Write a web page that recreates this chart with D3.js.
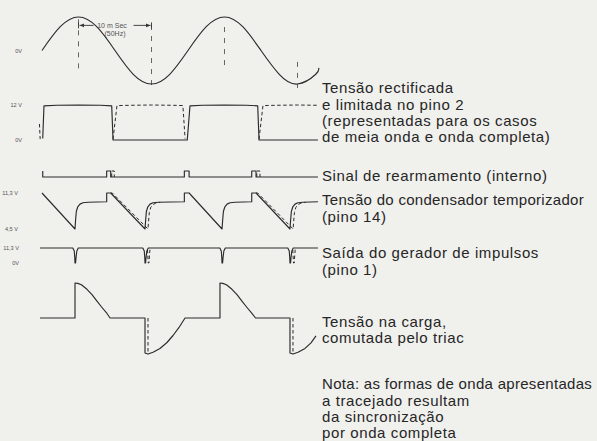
<!DOCTYPE html>
<html>
<head>
<meta charset="utf-8">
<script src="https://d3js.org/d3.v7.min.js"></script>
<style>
  body { margin: 0; background: #f0f0ed; }
  svg { display: block; }
  .trace { fill: none; stroke: #2b2b2b; stroke-width: 1.15; stroke-linejoin: round; }
  .dash { fill: none; stroke: #2b2b2b; stroke-width: 1; stroke-dasharray: 3.5,2.5; }
  .guide { fill: none; stroke: #555; stroke-width: 0.9; stroke-dasharray: 5,6; }
  .note { font-family: "Liberation Sans", Arial, sans-serif; font-size: 15px; letter-spacing: 0.6px; fill: #262626; }
  .small { font-family: "Liberation Sans", Arial, sans-serif; font-size: 6px; fill: #555; }
</style>
</head>
<body>
<div id="chart"></div>
<script>
// waveforms as [time (ms), value]
var mains = [[0,0],[2.5,0.71],[5,1],[7.5,0.71],[10,0],[12.5,-0.71],[15,-1],[17.5,-0.71],
  [20,0],[22.5,0.71],[25,1],[27.5,0.71],[30,0],[32.5,-0.71],[35,-1],[37.5,-0.71],[37.9,-0.52]];

var rectSolid = [[0.1,0.5],[0.27,11.7],[2,11.9],[5,12],[8,11.9],[9.55,11.7],[9.73,0],[19.9,0],
  [20.27,11.7],[22,11.9],[25,12],[28,11.9],[29.55,11.7],[29.73,0],[37.8,0]];
var rectDashed = [
  [[-0.35,5.5],[-0.25,0.3]],
  [[9.73,0.3],[10.27,11.8],[12,11.9],[15,12],[18,11.9],[19.3,11.8],[19.6,0.5]],
  [[29.73,0.3],[30.27,11.8],[32,11.9],[35,12],[37.8,11.9]]
];

var resetSolid = [[0.1,1],[0.1,0],[8.86,0],[8.86,1],[9.41,1],[9.41,0],[19.5,0],[19.5,1],[20.15,1],[20.15,0],
  [28.73,0],[28.73,1],[29.32,1],[29.32,0],[37.8,0]];
var resetDashed = [
  [[9.55,0],[9.55,1],[9.9,1],[9.9,0]],
  [[29.42,0],[29.42,1],[29.86,1],[29.86,0]]
];

var capSolid = [[0,11.3],[4.52,4.5],[4.6,6.2],[4.7,7.8],[4.9,8.7],[5.2,9.2],[5.6,9.45],[6.3,9.55],[8.86,9.65],
  [8.86,11.3],[9.41,11.3],[14.11,4.5],[14.2,6.2],[14.3,7.8],[14.5,8.7],[14.8,9.2],[15.2,9.45],[15.9,9.55],[19.5,9.65],
  [19.5,11.3],[20.15,11.3],[24.66,4.5],[24.75,6.2],[24.85,7.8],[25.05,8.7],[25.35,9.2],[25.75,9.45],[26.45,9.55],[28.73,9.65],
  [28.73,11.3],[29.32,11.3],[33.97,4.5],[34.06,6.2],[34.16,7.8],[34.36,8.7],[34.66,9.2],[35.06,9.45],[35.76,9.55],[37.8,9.65]];
var capDashed = [
  [[9.41,11.3],[9.63,11.3],[14.52,4.5],[14.6,6.0],[14.7,7.6],[14.9,8.6],[15.2,9.1],[15.6,9.4],[16.2,9.55]],
  [[29.32,11.3],[29.55,11.3],[34.4,4.5],[34.48,6.0],[34.58,7.6],[34.78,8.6],[35.08,9.1],[35.48,9.4],[36.1,9.55]]
];

var pulseSolid = [[-0.27,11.3],
  [4.22,11.3],[4.42,9],[4.49,4],[4.52,0],[4.6,0],[4.66,4],[4.77,9],[4.97,11.3],
  [13.81,11.3],[14.01,9],[14.08,4],[14.11,0],[14.19,0],[14.25,4],[14.36,9],[14.56,11.3],
  [24.36,11.3],[24.56,9],[24.63,4],[24.66,0],[24.74,0],[24.8,4],[24.91,9],[25.11,11.3],
  [33.67,11.3],[33.87,9],[33.94,4],[33.97,0],[34.05,0],[34.11,4],[34.22,9],[34.42,11.3],
  [37.8,11.3]];
var pulseDashed = [
  [[14.45,10],[14.55,0],[14.65,0],[14.78,10]],
  [[34.35,10],[34.45,0],[34.55,0],[34.68,10]]
];

var loadSolid = [[-0.27,0],[4.52,0],[4.52,1],[4.9,0.99],[5.4,0.95],[6.16,0.82],[6.85,0.67],[7.53,0.48],[8.22,0.3],[8.9,0.13],[9.32,0],
  [14.11,0],[14.11,-1],[14.52,-1.03],[15.21,-0.98],[16.16,-0.87],[17.12,-0.7],[17.95,-0.5],[18.77,-0.27],[19.59,0],
  [24.38,0],[24.38,1],[24.76,0.99],[25.26,0.95],[26.02,0.82],[26.71,0.67],[27.39,0.48],[28.08,0.3],[28.76,0.13],[29.25,0],
  [33.97,0],[33.97,-1],[34.38,-1.03],[35.07,-0.98],[36.03,-0.87],[36.85,-0.71],[37.53,-0.51]];
var loadDashed = [
  [[14.52,0],[14.52,-1.02]],
  [[34.38,0],[34.38,-1.02]]
];

// dashed guides on the mains wave (time, top and bottom in mains units)
var guideTimes = [5, 15, 25, 35];
var guideTop = [0.93, 0.76, 0.7, -0.34];
var guideBottom = [-0.64, -1.12, -0.58, -1.12];

// level labels
var mainsTicks = [0], mainsTickText = ["0V"];
var rectTicks = [12, 0], rectTickText = ["12 V", "0V"];
var capTicks = [11.3, 4.5], capTickText = ["11,3 V", "4,5 V"];
var pulseTicks = [11.3, 0], pulseTickText = ["11,3 V", "0V"];

// notes on the right
var rectNote = ["Tensão rectificada", "e limitada no pino 2", "(representadas para os casos", "de meia onda e onda completa)"];
var resetNote = ["Sinal de rearmamento (interno)"];
var capNote = ["Tensão do condensador temporizador", "(pino 14)"];
var pulseNote = ["Saída do gerador de impulsos", "(pino 1)"];
var loadNote = ["Tensão na carga,", "comutada pelo triac"];
var footNote = ["Nota: as formas de onda apresentadas", "a tracejado resultam", "da sincronização", "por onda completa"];

var width = 597, height = 441;

var svg = d3.select("#chart")
  .append("svg")
    .attr("width", width)
    .attr("height", height);

var x = d3.scaleLinear().domain([0, 20]).range([42, 188]);

var ySine  = d3.scaleLinear().domain([-1, 1]).range([84, 17]);
var yRect  = d3.scaleLinear().domain([0, 12]).range([140, 105]);
var yReset = d3.scaleLinear().domain([0, 1]).range([177, 171]);
var yCap   = d3.scaleLinear().domain([4.5, 11.3]).range([229, 193]);
var yPulse = d3.scaleLinear().domain([0, 11.3]).range([263, 248]);
var yLoad  = d3.scaleLinear().domain([-1, 1]).range([353, 283]);

function lineFor(y, curve) {
  return d3.line()
    .x(function(d) { return x(d[0]); })
    .y(function(d) { return y(d[1]); })
    .curve(curve || d3.curveLinear);
}

function drawTrace(data, y, curve) {
  svg.append("path").datum(data).attr("class", "trace").attr("d", lineFor(y, curve));
}
function drawDashed(segs, y) {
  svg.selectAll(null).data(segs).enter()
    .append("path").attr("class", "dash").attr("d", lineFor(y));
}

// mains guides
svg.selectAll(".guide").data(guideTimes).enter()
  .append("line").attr("class", "guide")
    .attr("x1", function(d) { return x(d); })
    .attr("x2", function(d) { return x(d); })
    .attr("y1", function(d, i) { return ySine(guideTop[i]); })
    .attr("y2", function(d, i) { return ySine(guideBottom[i]); });

drawTrace(mains, ySine, d3.curveNatural);
drawTrace(rectSolid, yRect);
drawDashed(rectDashed, yRect);
drawTrace(resetSolid, yReset);
drawDashed(resetDashed, yReset);
drawTrace(capSolid, yCap);
drawDashed(capDashed, yCap);
drawTrace(pulseSolid, yPulse);
drawDashed(pulseDashed, yPulse);
drawTrace(loadSolid, yLoad);
drawDashed(loadDashed, yLoad);

// 10 ms annotation
var defs = svg.append("defs");
defs.append("marker").attr("id", "arr")
  .attr("viewBox", "0 0 10 10").attr("refX", 10).attr("refY", 5)
  .attr("markerWidth", 5).attr("markerHeight", 5).attr("orient", "auto-start-reverse")
  .append("path").attr("d", "M0,1L10,5L0,9z").attr("fill", "#333");

var ay = ySine(0.75);
svg.append("line").attr("x1", x(5) + 15).attr("x2", x(5) + 1).attr("y1", ay).attr("y2", ay)
  .attr("stroke", "#333").attr("stroke-width", 0.9).attr("marker-end", "url(#arr)");
svg.append("line").attr("x1", x(15) - 18).attr("x2", x(15) - 1).attr("y1", ay).attr("y2", ay)
  .attr("stroke", "#333").attr("stroke-width", 0.9).attr("marker-end", "url(#arr)");
[5, 15].forEach(function(t) {
  svg.append("line").attr("x1", x(t)).attr("x2", x(t)).attr("y1", ay - 3).attr("y2", ay + 3)
    .attr("stroke", "#333").attr("stroke-width", 0.9);
});
svg.append("text").attr("class", "small").attr("x", x(10) - 3).attr("y", ay).attr("dy", "0.35em")
  .attr("text-anchor", "middle").style("font-size", "7px").text("10 m Sec");
svg.append("text").attr("class", "small").attr("x", x(10)).attr("y", ay + 8).attr("dy", "0.35em")
  .attr("text-anchor", "middle").style("font-size", "7px").text("(50Hz)");

// level labels via axes
function levelAxis(scale, ticks, labels, right) {
  var g = svg.append("g")
    .attr("transform", "translate(" + right + ",0)")
    .call(d3.axisLeft(scale).tickValues(ticks)
      .tickFormat(function(d, i) { return labels[i]; })
      .tickSize(0).tickPadding(0));
  g.select(".domain").remove();
  g.selectAll("text").attr("class", "small").attr("fill", null)
    .style("font-family", "'Liberation Sans', Arial, sans-serif").style("font-size", "5.6px");
}
levelAxis(ySine, mainsTicks, mainsTickText, 22);
levelAxis(yRect, rectTicks, rectTickText, 22);
levelAxis(yCap, capTicks, capTickText, 18);
levelAxis(yPulse, pulseTicks, pulseTickText, 19);

// notes
var notes = [
  { lines: rectNote, y: 88 },
  { lines: resetNote, y: 176 },
  { lines: capNote, y: 200 },
  { lines: pulseNote, y: 253 },
  { lines: loadNote, y: 321.5 },
  { lines: footNote, y: 384 }
];
notes.forEach(function(n) {
  svg.selectAll(null).data(n.lines).enter()
    .append("text").attr("class", "note")
      .attr("x", 322)
      .attr("y", function(d, i) { return n.y + i * 16.3; })
      .attr("dy", "0.35em")
      .text(function(d) { return d; })
      .each(function() {
        // the longest line would run past the page edge: tighten it a little
        if (322 + this.getComputedTextLength() > width - 4) d3.select(this).style("letter-spacing", "0.3px");
      });
});
</script>
</body>
</html>
